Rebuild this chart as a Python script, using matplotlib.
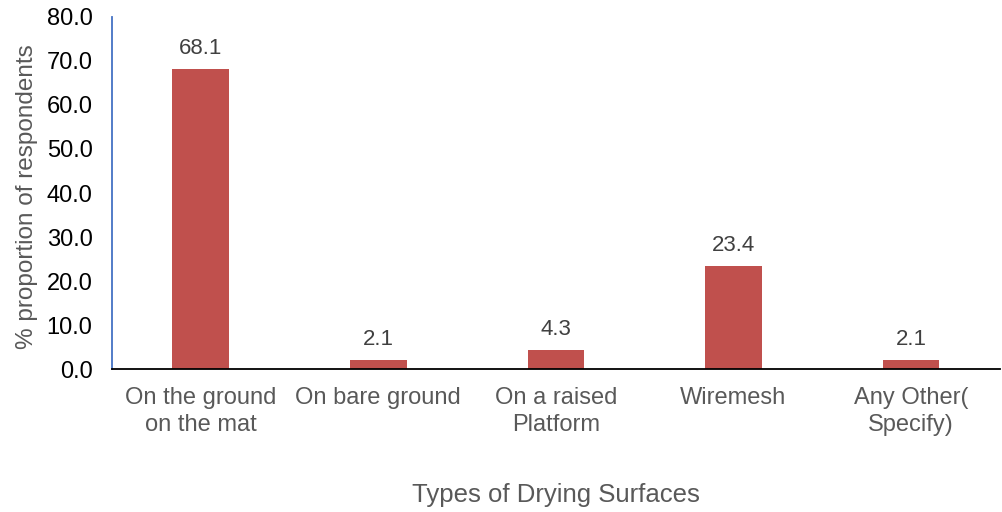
import matplotlib
matplotlib.use("Agg")
import matplotlib.pyplot as plt

categories = ["On the ground\non the mat", "On bare ground", "On a raised\nPlatform",
              "Wiremesh", "Any Other(\nSpecify)"]
values = [68.1, 2.1, 4.3, 23.4, 2.1]
yticks = [0, 10, 20, 30, 40, 50, 60, 70, 80]

plt.rcParams['font.family'] = ['Liberation Sans', 'DejaVu Sans']

fig = plt.figure(figsize=(10.02, 5.12), dpi=100)
ax = fig.add_axes([0.1118, 0.279, 0.886, 0.688])

x = list(range(len(categories)))
bars = ax.bar(x, values, width=0.32, color='#C0504D')
for b, v in zip(bars, values):
    ax.text(b.get_x() + b.get_width() / 2, v + 4.7, f"{v:.1f}", ha='center', va='center',
            fontsize=16, color='#404040')

ax.set_xlim(-0.5, len(categories) - 0.5)
ax.set_ylim(0, 80)
ax.set_yticks(yticks)
ax.set_yticklabels([f"{t:.1f}" for t in yticks], fontsize=17, color='black')
ax.set_xticks(x)
ax.set_xticklabels(categories, fontsize=17, color='#595959', linespacing=1.27)
ax.tick_params(axis='both', length=0)
ax.tick_params(axis='x', pad=13)
ax.tick_params(axis='y', pad=14)

for s in ['top', 'right']:
    ax.spines[s].set_visible(False)
ax.spines['left'].set_color('#4472C4')
ax.spines['left'].set_linewidth(1.3)
ax.spines['bottom'].set_color('black')
ax.spines['bottom'].set_linewidth(1.3)

ax.set_ylabel("% proportion of respondents", fontsize=17.5, color='#595959')
ax.yaxis.label.set_va('center')
ax.yaxis.set_label_coords(-0.0957, 0.49)
ax.set_xlabel("Types of Drying Surfaces", fontsize=18.5, color='#595959')
ax.xaxis.label.set_va('center')
ax.xaxis.set_label_coords(0.5, -0.358)

fig.savefig("out.png", dpi=100)
